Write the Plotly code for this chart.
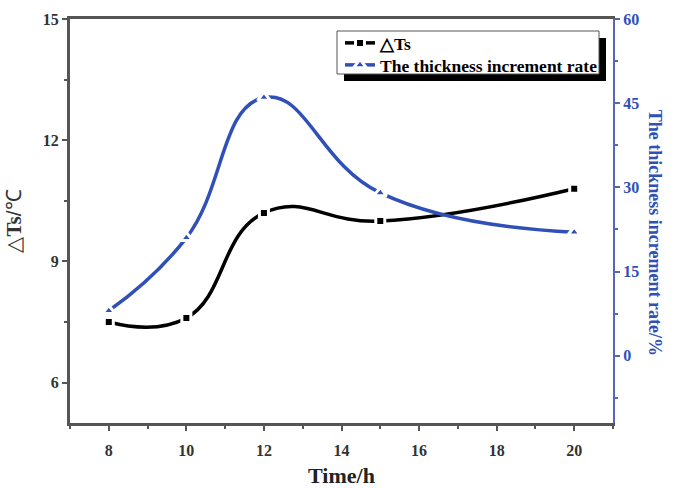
import plotly.graph_objects as go

# Measured data
time_h = [8, 10, 12, 15, 20]
delta_ts = [7.5, 7.6, 10.2, 10.0, 10.8]
thickness_rate = [8, 21, 46, 29, 22]

x_ticks = [8, 10, 12, 14, 16, 18, 20]
left_ticks = [6, 9, 12, 15]
right_ticks = [0, 15, 30, 45, 60]

BLUE = "#3050b8"
AXIS_BLUE = "#5566bb"
AXIS_GRAY = "#555555"
SERIF = "Liberation Serif, Times New Roman, serif"
SANS = "Liberation Sans, Arial, sans-serif"

# plot area in pixels
L, R, T, B = 70, 613, 19, 423
W, H = R - L, B - T


def px_x(p):
    return (p - L) / W


def px_y(p):
    return 1 - (p - T) / H


fig = go.Figure()

fig.add_trace(go.Scatter(
    x=time_h, y=delta_ts, name="△Ts", mode="lines+markers",
    line=dict(color="black", width=3.5, shape="spline", smoothing=1.3),
    marker=dict(symbol="square", size=9, color="black", line=dict(color="white", width=3)),
    yaxis="y", legend="legend",
))
fig.add_trace(go.Scatter(
    x=time_h, y=thickness_rate, name="The thickness increment rate", mode="lines+markers",
    line=dict(color=BLUE, width=3.5, shape="spline", smoothing=1.3),
    marker=dict(symbol="triangle-up", size=11, color=BLUE, line=dict(color="white", width=3)),
    yaxis="y2", legend="legend2",
))

legend_common = dict(
    xanchor="left", yanchor="middle",
    bgcolor="rgba(0,0,0,0)", borderwidth=0,
    font=dict(family=SERIF, size=17.5, color="black", weight="bold"),
    itemwidth=30,
)

fig.update_layout(
    width=679, height=488,
    margin=dict(l=L, r=679 - R, t=T, b=488 - B),
    plot_bgcolor="white", paper_bgcolor="white",
    showlegend=True,
    legend=dict(x=px_x(340), y=px_y(43), **legend_common),
    legend2=dict(x=px_x(340), y=px_y(65), **legend_common),
    xaxis=dict(
        range=[7, 21], tickvals=x_ticks, ticks="outside", ticklen=5, tickwidth=2,
        tickcolor=AXIS_GRAY, showline=True, linecolor=AXIS_GRAY, linewidth=3,
        mirror=True, showgrid=False, zeroline=False, ticklabelstandoff=6,
        automargin=False,
        tickfont=dict(family=SERIF, size=16, color="#333333", weight="bold"),
        minor=dict(dtick=1, tick0=7, ticks="outside", ticklen=3, tickcolor=AXIS_GRAY),
        title=dict(text="Time/h", font=dict(family=SERIF, size=22, color="#222222", weight="bold"), standoff=25),
    ),
    yaxis=dict(
        range=[5, 15], tickvals=left_ticks, ticks="outside", ticklen=5, tickwidth=2,
        tickcolor=AXIS_GRAY, showline=True, linecolor=AXIS_GRAY, linewidth=3,
        showgrid=False, zeroline=False, automargin=False,
        tickfont=dict(family=SERIF, size=16, color="#333333", weight="bold"),
        minor=dict(dtick=1.5, tick0=6, ticks="outside", ticklen=3, tickcolor=AXIS_GRAY),
        title=dict(
            text='△<span style="font-family:Liberation Serif"><b>Ts</b></span>/℃',
            font=dict(family=SANS, size=21, color="#333333"), standoff=16,
        ),
    ),
    yaxis2=dict(
        range=[-12, 60], tickvals=right_ticks, overlaying="y", side="right",
        ticks="outside", ticklen=5, tickwidth=2, tickcolor=AXIS_BLUE,
        showline=True, linecolor=AXIS_BLUE, linewidth=2, showgrid=False, zeroline=False,
        automargin=False,
        tickfont=dict(family=SERIF, size=16, color=BLUE, weight="bold"),
        minor=dict(dtick=7.5, tick0=0, ticks="outside", ticklen=3, tickcolor=AXIS_BLUE),
    ),
)

# Right-axis title reading top to bottom
fig.add_annotation(
    text="The thickness increment rate/%", xref="paper", yref="paper",
    x=1.1, y=0.47, textangle=90, showarrow=False,
    font=dict(family=SERIF, size=18, color=BLUE, weight="bold"),
)

# Legend frame with a drop shadow
fig.add_shape(
    type="rect", xref="paper", yref="paper",
    x0=px_x(344), x1=px_x(606), y0=px_y(81), y1=px_y(38),
    fillcolor="black", line=dict(width=0), layer="above",
)
fig.add_shape(
    type="rect", xref="paper", yref="paper",
    x0=px_x(337), x1=px_x(599), y0=px_y(74), y1=px_y(31),
    fillcolor="white", line=dict(color="#555555", width=1), layer="above",
)

fig.write_html("out.html")
